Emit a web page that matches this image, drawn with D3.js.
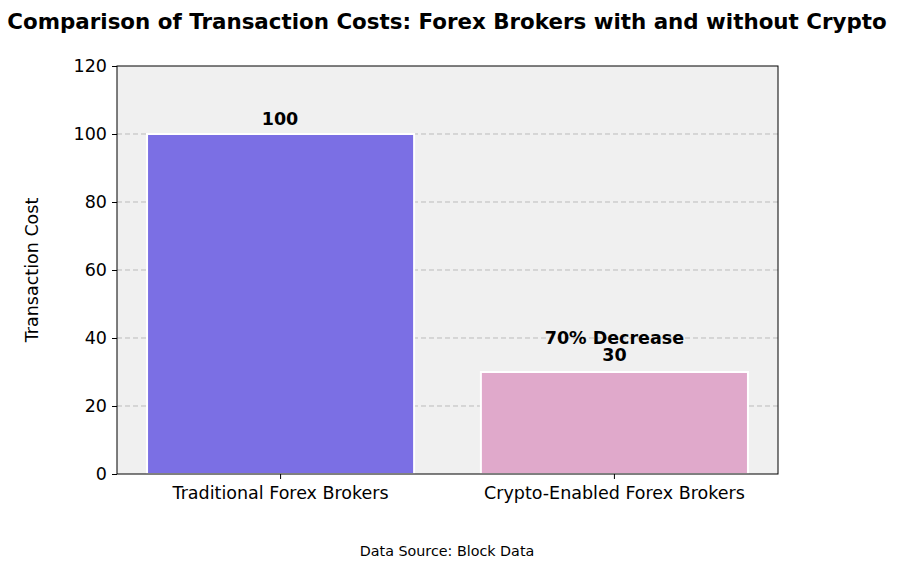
<!DOCTYPE html>
<html><head><meta charset="utf-8">
<script src="https://cdn.jsdelivr.net/npm/d3@7"></script>
<style>body{margin:0;background:#fff;font-family:"DejaVu Sans",sans-serif;}</style>
</head><body><svg id="c" width="900" height="568"></svg>
<script>
const categories = ["Traditional Forex Brokers", "Crypto-Enabled Forex Brokers"];
const values = [100, 30];
const colors = ["#7B6FE4", "#E0A9CB"];
const yTicks = [0, 20, 40, 60, 80, 100, 120];

const svg = d3.select("#c");
const m = {l:117, r:778, t:66, b:474};
const x = d3.scaleBand().domain(categories).range([m.l, m.r]).paddingInner(0.2).paddingOuter(0.09);
const y = d3.scaleLinear().domain([0,120]).range([m.b, m.t]);

svg.append("rect").attr("x",m.l).attr("y",m.t).attr("width",m.r-m.l).attr("height",m.b-m.t).attr("fill","#f0f0f0");
svg.append("g").selectAll("line").data(yTicks.filter(d=>d>0&&d<120)).join("line")
  .attr("x1",m.l).attr("x2",m.r).attr("y1",d=>y(d)).attr("y2",d=>y(d))
  .attr("stroke","#bbb").attr("stroke-dasharray","5,3").attr("stroke-width",1);

svg.append("g").selectAll("rect").data(categories).join("rect")
  .attr("x",d=>x(d)).attr("width",x.bandwidth())
  .attr("y",(d,i)=>y(values[i])).attr("height",(d,i)=>y(0)-y(values[i]))
  .attr("fill",(d,i)=>colors[i]).attr("stroke","#fff").attr("stroke-width",2);

svg.append("rect").attr("x",m.l).attr("y",m.t).attr("width",m.r-m.l).attr("height",m.b-m.t).attr("fill","none").attr("stroke","#000").attr("stroke-width",1);

const ya = svg.append("g").attr("transform",`translate(${m.l},0)`).call(d3.axisLeft(y).tickValues(yTicks).tickSize(5).tickPadding(5));
const xa = svg.append("g").attr("transform",`translate(0,${m.b})`).call(d3.axisBottom(x).tickSize(5).tickPadding(8));
[ya,xa].forEach(a=>{a.select(".domain").remove();a.selectAll("text").attr("font-size",17.5).attr("font-family","DejaVu Sans").attr("fill","#000");});

svg.append("text").attr("x",280).attr("y",125).attr("text-anchor","middle").attr("font-weight","bold").attr("font-size",17.5).text(values[0]);
svg.append("text").attr("x",x(categories[1])+x.bandwidth()/2).attr("y",344).attr("text-anchor","middle").attr("font-weight","bold").attr("font-size",17.5).text("70% Decrease");
svg.append("text").attr("x",x(categories[1])+x.bandwidth()/2).attr("y",361).attr("text-anchor","middle").attr("font-weight","bold").attr("font-size",17.5).text(values[1]);

svg.append("text").attr("x",447).attr("y",29).attr("text-anchor","middle").attr("font-weight","bold").attr("font-size",21.4).text("Comparison of Transaction Costs: Forex Brokers with and without Crypto");
svg.append("text").attr("transform","translate(38,270) rotate(-90)").attr("text-anchor","middle").attr("font-size",17.5).text("Transaction Cost");
svg.append("text").attr("x",447).attr("y",556).attr("text-anchor","middle").attr("font-size",14.3).text("Data Source: Block Data");
</script></body></html>
